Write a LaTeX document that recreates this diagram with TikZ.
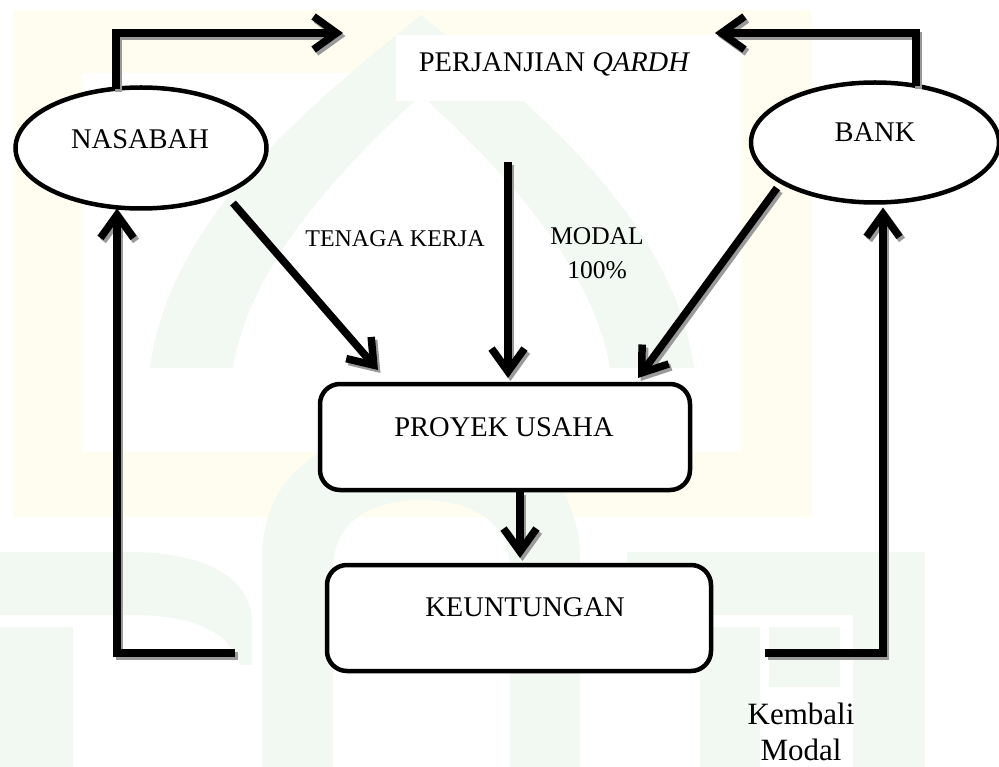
\documentclass[tikz,border=0pt]{standalone}
\usepackage{fontspec}
\setmainfont{Liberation Serif}
\usetikzlibrary{arrows.meta,shapes.geometric,calc}
\definecolor{wmgreen}{HTML}{F2F8F2}
\definecolor{wmyellow}{HTML}{FFFDF0}
\definecolor{shadowgray}{HTML}{9A9A9A}

\tikzset{
  flow/.style={line width=7.5pt, line cap=butt,
    -{Straight Barb[length=23pt,width=33pt]}},
  party/.style={ellipse, draw, fill=white, line width=4.5pt, inner sep=0pt,
    outer sep=0pt, minimum width=251pt, minimum height=121pt},
  stagebox/.style={rectangle, rounded corners=20pt, draw, fill=white,
    line width=4.5pt, inner sep=0pt, outer sep=0pt, minimum height=106pt},
  bigtext/.style={font=\fontsize{28.5pt}{34pt}\selectfont, inner sep=0pt, anchor=base},
}

% all connectors, drawn once as shadow and once in black
\newcommand\drawconnectors[1]{%
  \draw[flow,#1] (nas.113) |- (tipNP);
  \draw[flow,#1] (bank.54) |- (tipBP);
  \draw[flow,#1] ($(nas.center)+(92,55)$) -- ($(pu.north west)+(58,-14)$);
  \draw[flow,#1] (m0) -- ($(pu.north)+(3,-6)$);
  \draw[flow,#1] ($(bank.center)+(-98,45.5)$) -- ($(pu.north east)+(-52,-6)$);
  \draw[flow,#1] ($(pu.south)+(15,2)$) -- ($(ke.north)+(1,-7)$);
  \draw[flow,#1] (retL) -| ($(nas.south)+(-24,0)$);
  \draw[flow,#1] (retR) -| ($(bank.south)+(8,5)$);
}

\begin{document}
\begin{tikzpicture}[x=1pt,y=-1pt]
\useasboundingbox (0,0) rectangle (999,767);

% faint logo in the background
\fill[wmyellow, even odd rule] (13,10) rectangle (812,517) (82,73) rectangle (742,452);
\fill[wmgreen, even odd rule]
  (150,368) .. controls (170,210) and (330,90) .. (421,15)
            .. controls (512,90) and (672,210) .. (694,368) -- cycle
  (233,368) .. controls (250,260) and (350,160) .. (421,95)
            .. controls (492,160) and (592,260) .. (610,368) -- cycle;
\fill[wmgreen] (0,552) -- (130,552) .. controls (200,552) and (250,575) .. (252,620)
  -- (252,665) -- (240,665) .. controls (230,630) and (190,615) .. (130,615) -- (0,615) -- cycle;
\fill[wmgreen] (0,627) rectangle (73,767);
\fill[wmgreen]
  (262,767) -- (262,560) .. controls (262,470) and (330,430) .. (421,430)
  .. controls (512,430) and (580,470) .. (580,560) -- (580,767) -- (510,767) -- (510,570)
  .. controls (510,520) and (470,500) .. (421,500)
  .. controls (372,500) and (333,520) .. (333,570) -- (333,767) -- cycle;
\fill[wmgreen] (627,552) rectangle (925,615);
\fill[wmgreen] (853,615) rectangle (925,767);
\fill[wmgreen] (769,627) rectangle (840,687);
\fill[wmgreen] (700,627) rectangle (760,767);

% parties, agreement and project stages
\node[party] (nas) at (141,148) {};
\node[party, minimum width=248pt, minimum height=120pt] (bank) at (875,142.5) {};
\node[fill=white, inner sep=0pt, minimum width=346pt, minimum height=66pt] (pj) at (569,68) {};
\node[stagebox, minimum width=370pt] (pu) at (505,437) {};
\node[stagebox, minimum width=384pt] (ke) at (519,618) {};

% labels
\node[bigtext] (tnas) at (140,148.3) {NASABAH};
\node[bigtext] (tbank) at (875,141.7) {BANK};
\node[bigtext] (tpj) at (554.5,71.7) {PERJANJIAN \textit{QARDH}};
\node[bigtext] (tpu) at (504,436) {PROYEK USAHA};
\node[bigtext] (tke) at (525,616.7) {KEUNTUNGAN};
\node[font=\fontsize{24pt}{28pt}\selectfont, inner sep=0pt, anchor=base] (ttk) at (395,246.7) {TENAGA KERJA};
\node[font=\fontsize{25.5pt}{33.3pt}\selectfont, inner sep=0pt, anchor=base, align=center] (tmod) at (597,278.3) {MODAL\\100\%};
\node[font=\fontsize{31pt}{36pt}\selectfont, inner sep=0pt, anchor=base, align=center] (tkm) at (801,760) {Kembali\\Modal};

% free ends of the connectors
\coordinate (tipNP) at (343,33);
\coordinate (tipBP) at (715,33);
\coordinate (m0) at (508,162);
\coordinate (retL) at (235,653);
\coordinate (retR) at (765,653);

% connectors with their drop shadow
\begin{scope}[transform canvas={xshift=2.5pt,yshift=-3pt}]
  \drawconnectors{draw=shadowgray}
\end{scope}
\drawconnectors{}
\end{tikzpicture}
\end{document}
